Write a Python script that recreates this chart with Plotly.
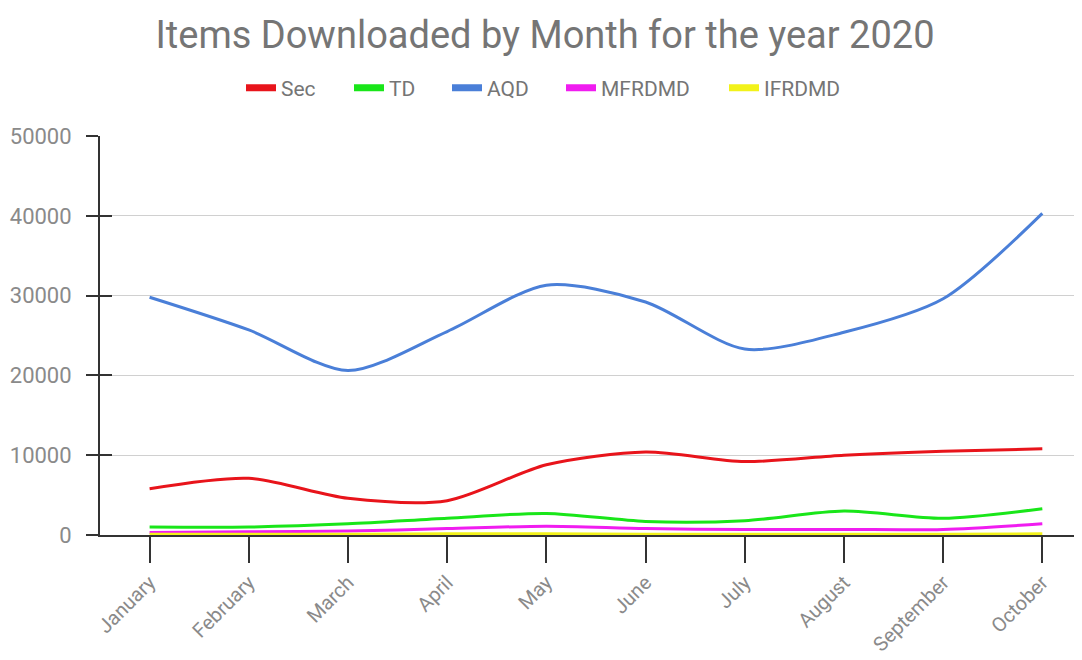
import plotly.graph_objects as go

months = ["January", "February", "March", "April", "May", "June", "July", "August", "September", "October"]
sec = [5800, 7100, 4600, 4300, 8800, 10400, 9200, 10000, 10500, 10800]
td = [1000, 1000, 1400, 2100, 2700, 1700, 1800, 3000, 2100, 3300]
aqd = [29800, 25700, 20600, 25500, 31300, 29200, 23300, 25400, 29600, 40300]
mfrdmd = [300, 400, 500, 800, 1100, 800, 700, 700, 700, 1400]
ifrdmd = [100, 100, 100, 150, 150, 100, 100, 100, 100, 150]

series = [("Sec", sec, "#e8141b"), ("TD", td, "#19e619"), ("AQD", aqd, "#4a7fd8"),
          ("MFRDMD", mfrdmd, "#f01cf0"), ("IFRDMD", ifrdmd, "#f2f21a")]

W, H = 1074, 652  # page has an 8px body margin
legend_x = [241, 349, 447, 561, 724]

fig = go.Figure()
legend_ids = ["legend", "legend2", "legend3", "legend4", "legend5"]
for (name, vals, col), lid in zip(series, legend_ids):
    fig.add_trace(go.Scatter(x=months, y=vals, name=name, mode="lines", showlegend=False,
                             line=dict(color=col, width=3, shape="spline", smoothing=0.8)))
    # legend entry with a thicker swatch
    fig.add_trace(go.Scatter(x=[None], y=[None], name=name, mode="lines", legend=lid,
                             line=dict(color=col, width=7)))

# empty trace so the overlaid axis (inner half of the y ticks) is drawn
fig.add_trace(go.Scatter(x=[None], y=[None], yaxis="y2", showlegend=False, hoverinfo="skip"))

legend_common = dict(orientation="h", xref="container", yref="container",
                     y=1 - 80 / H, yanchor="middle", xanchor="left",
                     bgcolor="rgba(0,0,0,0)", borderwidth=0,
                     font=dict(size=21, color="#757575"))
layout_legends = {}
for lid, px in zip(legend_ids, legend_x):
    layout_legends[lid] = dict(legend_common, x=(px - 8) / W)

fig.update_layout(
    width=W, height=H,
    paper_bgcolor="white", plot_bgcolor="white",
    font=dict(family="Roboto", color="#757575", size=20),
    title=dict(text="Items Downloaded by Month for the year 2020", x=0.5, xanchor="center",
               yref="container", y=1 - 27 / H, yanchor="middle",
               font=dict(size=38, color="#757575")),
    margin=dict(l=92, r=0, t=128, b=125),
    **layout_legends,
)
fig.update_xaxes(range=[-0.5, 9.40], showline=True, linecolor="#333333", linewidth=2,
                 ticks="outside", ticklen=26, tickcolor="#333333", tickwidth=1.5, tickangle=-45,
                 showgrid=False, automargin=False, tickfont=dict(size=20, color="#8a8a8a"))
fig.update_yaxes(range=[0, 50000], dtick=10000, tickformat="d", showline=True,
                 linecolor="#333333", linewidth=2,
                 ticks="outside", ticklen=12, tickcolor="#333333", tickwidth=1.5,
                 ticklabelstandoff=10,
                 gridcolor="#d0d0d0", automargin=False,
                 zeroline=False, tickfont=dict(size=22, color="#8a8a8a"))
fig.update_layout(yaxis2=dict(overlaying="y", anchor="x", side="left", range=[0, 50000],
                              dtick=10000, ticks="inside", ticklen=12, tickcolor="#333333",
                              tickwidth=1.5, showticklabels=False, showgrid=False,
                              zeroline=False, showline=False, automargin=False))

fig.write_html("out.html")
